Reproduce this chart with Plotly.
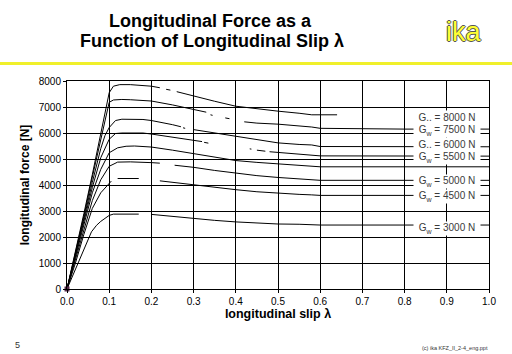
import plotly.graph_objects as go

# ---- data ----
slip_8000 = [0, 0.02, 0.04, 0.06, 0.08, 0.09, 0.1, 0.11, 0.125, 0.15, 0.2, 0.22, None, 0.235, 0.245, None,
             0.26, 0.3, 0.35, 0.4, 0.45, 0.5, 0.55, 0.58, 0.64]
force_8000 = [0, 1400, 2900, 4400, 6000, 6800, 7550, 7800, 7860, 7860, 7800, 7740, None, 7680, 7650, None,
              7590, 7420, 7220, 7030, 6930, 6840, 6760, 6700, 6700]

slip_7500 = [0, 0.02, 0.04, 0.06, 0.08, 0.09, 0.1, 0.11, 0.13, 0.15, 0.2, 0.25, 0.3, 0.33, None, 0.34, 0.345, None,
             0.375, 0.385, None, 0.42, 0.45, 0.5, 0.55, 0.58, 0.6, 0.8, 1.0]
force_7500 = [0, 1350, 2800, 4300, 5800, 6550, 7180, 7270, 7290, 7280, 7230, 7080, 6920, 6800, None, 6700, 6680, None,
              6580, 6550, None, 6430, 6380, 6340, 6280, 6230, 6180, 6150, 6150]

slip_7000 = [0, 0.02, 0.04, 0.06, 0.08, 0.09, 0.1, 0.115, 0.13, 0.18, 0.2, 0.25, 0.27, None, 0.275, 0.28, None,
             0.3, 0.35, 0.4, 0.45, 0.5, 0.55, 0.58, 0.6, 1.0]
force_7000 = [0, 1300, 2700, 4100, 5400, 5900, 6210, 6480, 6530, 6520, 6480, 6320, 6240, None, 6200, 6180, None,
              6130, 6000, 5870, 5740, 5620, 5560, 5540, 5480, 5470]

slip_6000 = [0, 0.02, 0.04, 0.06, 0.08, 0.1, 0.115, 0.13, 0.18, 0.2, 0.25, 0.3, 0.32, None, 0.325, 0.335, None,
             0.433, 0.437, None, 0.45, 0.47, None, 0.48, 0.5, 0.55, 0.58, 0.6, 1.0]
force_6000 = [0, 1250, 2600, 3900, 5050, 5760, 5980, 6000, 6000, 5960, 5850, 5730, 5670, None, 5640, 5610, None,
              5390, 5380, None, 5340, 5300, None, 5280, 5250, 5180, 5140, 5120, 5110]

slip_5500 = [0, 0.02, 0.04, 0.06, 0.08, 0.1, 0.12, 0.14, 0.16, 0.2, 0.25, 0.3, 0.35, 0.4, 0.45, 0.5, 0.55, 0.58, 0.6, 1.0]
force_5500 = [0, 1200, 2500, 3700, 4600, 5240, 5430, 5490, 5500, 5460, 5340, 5200, 5060, 4940, 4870, 4810, 4750, 4720, 4700, 4700]

slip_5000 = [0, 0.02, 0.04, 0.06, 0.08, 0.1, 0.12, 0.15, 0.2, 0.22, None, 0.255, 0.3, 0.35, 0.4, 0.45, 0.5, 0.55, 0.58, 0.6, 1.0]
force_5000 = [0, 1100, 2300, 3400, 4200, 4720, 4880, 4890, 4860, 4840, None, 4760, 4680, 4560, 4450, 4360, 4290, 4230, 4200, 4180, 4180]

slip_4500 = [0, 0.02, 0.04, 0.06, 0.08, 0.1, 0.105, None, 0.12, 0.17, None, 0.22, 0.25, 0.3, 0.35, 0.4, 0.45, 0.5, 0.55, 0.58, 0.6, 1.0]
force_4500 = [0, 1000, 2100, 3100, 3700, 4080, 4150, None, 4250, 4250, None, 4160, 4100, 4000, 3900, 3820, 3740, 3680, 3640, 3620, 3600, 3600]

slip_3000 = [0, 0.02, 0.04, 0.058, 0.07, 0.08, 0.1, 0.11, 0.17, None, 0.2, 0.25, 0.3, 0.35, 0.4, 0.45, 0.5, 0.55, 0.58, 0.6, 1.0]
force_3000 = [0, 780, 1550, 2200, 2450, 2600, 2830, 2880, 2880, None, 2870, 2790, 2720, 2640, 2580, 2530, 2500, 2490, 2480, 2460, 2460]

curve_slips = [slip_8000, slip_7500, slip_7000, slip_6000, slip_5500, slip_5000, slip_4500, slip_3000]
curve_forces = [force_8000, force_7500, force_7000, force_6000, force_5500, force_5000, force_4500, force_3000]

label_texts = ["G.. = 8000 N", "G<sub>w</sub> = 7500 N", "G.. = 6000 N", "G<sub>w</sub> = 5500 N",
               "G<sub>w</sub> = 5000 N", "G<sub>w</sub> = 4500 N", "G<sub>w</sub> = 3000 N"]
label_forces = [6615, 6115, 5577, 5077, 4154, 3577, 2346]

x_ticks = [0.0, 0.1, 0.2, 0.3, 0.4, 0.5, 0.6, 0.7, 0.8, 0.9, 1.0]
y_ticks = [0, 1000, 2000, 3000, 4000, 5000, 6000, 7000, 8000]

FONT = "Liberation Sans, Arial, sans-serif"

fig = go.Figure()
for xs, ys in zip(curve_slips, curve_forces):
    fig.add_trace(go.Scatter(x=xs, y=ys, mode="lines", connectgaps=False,
                             line=dict(color="black", width=1), showlegend=False, hoverinfo="skip"))

fig.add_trace(go.Scatter(x=[slip_8000[0]], y=[force_8000[0]], mode="markers", cliponaxis=False,
                         marker=dict(symbol="square", size=5, color="#55284a"), showlegend=False))

for t, f in zip(label_texts, label_forces):
    fig.add_annotation(x=0.9, y=f, xref="x", yref="y", text=t, showarrow=False,
                       font=dict(family=FONT, size=10, color="#3a3a3a"),
                       bgcolor="white", borderpad=1, width=64, height=11, align="center")

fig.update_layout(
    width=512, height=354, autosize=False,
    margin=dict(l=67, r=23, t=81, b=65),
    paper_bgcolor="white", plot_bgcolor="white",
    font=dict(family=FONT, color="black"),
    xaxis=dict(range=[0, 1], tickvals=x_ticks, tickformat=".1f", showgrid=True, gridcolor="black", gridwidth=1,
               showline=True, linecolor="black", linewidth=1, mirror=True, ticks="outside", ticklen=3,
               tickcolor="black", zeroline=False, tickfont=dict(size=10, family=FONT),
               title=dict(text="<b>longitudinal slip λ</b>", font=dict(size=12.5, family=FONT), standoff=2)),
    yaxis=dict(range=[0, 8000], tickvals=y_ticks, showgrid=True, gridcolor="black", gridwidth=1,
               showline=True, linecolor="black", linewidth=1, mirror=True, ticks="outside", ticklen=3,
               tickcolor="black", zeroline=False, tickfont=dict(size=10, family=FONT),
               title=dict(text="<b>longitudinal force [N]</b>", font=dict(size=12, family=FONT), standoff=6)),
)

# convert pixel positions to paper coordinates (paper = plot area)
L, R, T, B = 67, 489, 81, 289
def to_paper(x, y):
    return (x - L) / (R - L), (B - y) / (B - T)

def pann(text, x, y, size, bold=False, color="black", xanchor="center", shadow=None):
    px_, py_ = to_paper(x, y)
    f = dict(family=FONT, size=size, color=color)
    if shadow:
        f["shadow"] = shadow
    fig.add_annotation(x=px_, y=py_, xref="paper", yref="paper",
                       text=f"<b>{text}</b>" if bold else text, showarrow=False,
                       xanchor=xanchor, yanchor="middle", font=f)

pann("Longitudinal Force as a", 210, 21, 18, bold=True)
pann("Function of Longitudinal Slip λ", 212, 41, 18, bold=True)
pann("ika", 463, 32, 27, color="#ffff33",
     shadow="-1px 0 0 #555, 1px 0 0 #555, 0 -1px 0 #555, 0 1px 0 #555")
pann("5", 17, 345, 9, color="#333333")
pann("(c) ika KFZ_II_2-4_eng.ppt", 490, 348, 5.5, color="#333333", xanchor="right")

x0, _ = to_paper(0, 0)
x1, _ = to_paper(512, 0)
_, yl = to_paper(0, 63.5)
fig.add_shape(type="line", xref="paper", yref="paper", x0=x0, x1=x1, y0=yl, y1=yl,
              line=dict(color="#f0f02a", width=3))

fig.write_html("out.html")
